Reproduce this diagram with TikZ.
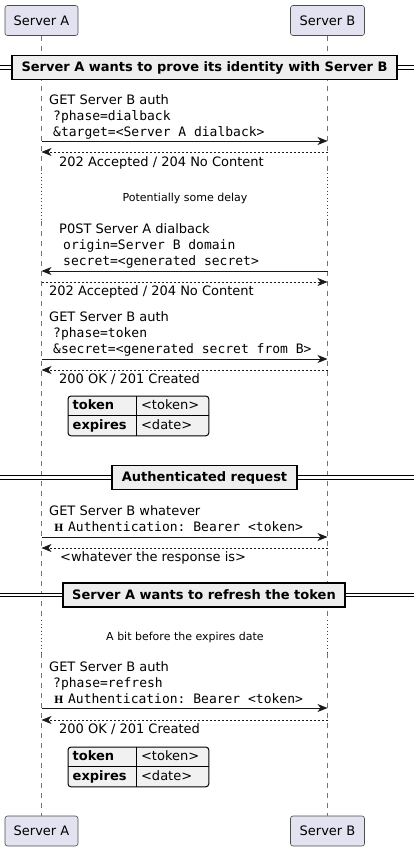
\documentclass[tikz,border=0pt]{standalone}
\usepackage{fontspec}
\setmainfont{DejaVu Sans}
\setsansfont{DejaVu Sans}
\setmonofont{DejaVu Sans Mono}
\newfontfamily\hdrfont{DejaVu Serif}
\usetikzlibrary{
  arrows.meta,
  positioning,
  fit,
  backgrounds
}
\definecolor{PartFill}{HTML}{E2E2F0}
\definecolor{SectFill}{HTML}{EEEEEE}
\definecolor{TblFill}{HTML}{F1F1F1}
\tikzset{
  % Participant box
  partbox/.style={
    rectangle, rounded corners=2.5pt,
    draw=black!70, fill=PartFill, line width=0.6pt,
    minimum height=30pt, inner xsep=0pt,
    font=\fontsize{13}{15}\selectfont
  },
  % Lifeline, normal and during a delay
  life/.style={draw=black!55, line width=0.6pt, dash pattern=on 5pt off 5pt},
  waitline/.style={draw=black!75, line width=0.8pt, dash pattern=on 1pt off 2.5pt},
  % Request and response arrows
  msg/.style={
    -{Stealth[length=10pt,width=8pt,inset=3pt]},
    line width=0.9pt, color=black!90
  },
  ret/.style={msg, line width=0.7pt, dash pattern=on 2pt off 2pt},
  % Message label
  lbl/.style={anchor=base west, inner sep=0pt, align=left, font=\fontsize{13}{16}\selectfont},
  % Section divider
  divline/.style={double=white, double distance=2.6pt, line width=1pt},
  sect/.style={
    rectangle, draw=black, line width=1.5pt, fill=SectFill,
    minimum height=24pt, inner xsep=2pt,
    font=\bfseries\fontsize{13}{15}\selectfont
  },
  delaytxt/.style={font=\fontsize{11}{13}\selectfont},
  % Token table cells
  cellk/.style={
    inner xsep=4.5pt, inner ysep=0pt, text width=59pt,
    minimum height=19.5pt, text height=9.5pt, text depth=2.6pt,
    align=left, font=\bfseries\fontsize{13}{15}\selectfont
  },
  cellv/.style={cellk, text width=63pt, font=\fontsize{13}{15}\selectfont},
  tbl/.style={draw=black, line width=1pt, rounded corners=3pt, fill=TblFill, inner sep=0pt}
}

\begin{document}
\begin{tikzpicture}[x=1pt, y=-1pt]

  \useasboundingbox (0,0) rectangle (414,851);
  \coordinate (lft) at (0,0);
  \coordinate (rgt) at (414,0);

  % Participants
  \node[partbox, minimum width=73pt] (topA) at (41.5,20.5) {Server A};
  \node[partbox, minimum width=74pt] (topB) at (327.5,20.5) {Server B};
  \node[partbox, minimum width=73pt] (botA) at (41.5,831) {Server A};
  \node[partbox, minimum width=74pt] (botB) at (327.5,831) {Server B};

  % Lifelines
  \coordinate (d1) at (0,173);
  \coordinate (d1e) at (0,221);
  \coordinate (d2) at (0,620);
  \coordinate (d2e) at (0,653);
  \foreach \p in {A,B}{
    \draw[life] (top\p.south) -- (top\p |- d1);
    \draw[waitline] (top\p |- d1) -- (top\p |- d1e);
    \draw[life] (top\p |- d1e) -- (top\p |- d2);
    \draw[waitline] (top\p |- d2) -- (top\p |- d2e);
    \draw[life] (top\p |- d2e) -- (bot\p.north);
  }

  % Section: proving identity
  \node[sect, minimum width=385pt] (s1) at (204.5,67.5) {Server A wants to prove its identity with Server B};
  \draw[divline] (s1.west -| lft) -- (s1.west);
  \draw[divline] (s1.east) -- (s1.east -| rgt);

  \node[lbl] (l1) at (49,136.5) {GET Server B auth\\
    \hspace*{4pt}\texttt{?phase=dialback}\\
    \hspace*{4pt}\texttt{\&target=<Server A dialback>}};
  \coordinate (r1) at (0,141);
  \draw[msg] (topA |- r1) -- (topB |- r1);
  \coordinate (r2) at (0,152);
  \draw[ret] (topB |- r2) -- (topA |- r2);
  \node[lbl] (l2) at (59,166.5) {202 Accepted / 204 No Content};

  \node[delaytxt] (w1) at (185,198) {Potentially some delay};

  \node[lbl] (l3) at (59,265.5) {P0ST Server A dialback\\
    \hspace*{4pt}\texttt{origin=Server B domain}\\
    \hspace*{4pt}\texttt{secret=<generated secret>}};
  \coordinate (r3) at (0,271);
  \draw[msg] (topB |- r3) -- (topA |- r3);
  \coordinate (r4) at (0,282);
  \draw[ret] (topA |- r4) -- (topB |- r4);
  \node[lbl] (l4) at (49,295.5) {202 Accepted / 204 No Content};

  \node[lbl] (l5) at (49,353.5) {GET Server B auth\\
    \hspace*{4pt}\texttt{?phase=token}\\
    \hspace*{4pt}\texttt{\&secret=<generated secret from B>}};
  \coordinate (r5) at (0,359);
  \draw[msg] (topA |- r5) -- (topB |- r5);
  \coordinate (r6) at (0,370);
  \draw[ret] (topB |- r6) -- (topA |- r6);
  \node[lbl] (l6) at (59,383.5) {200 OK / 201 Created};

  % Token table
  \node[cellk, anchor=north west] (tk1) at (68,396) {token};
  \node[cellv, right=0pt of tk1] (tv1) {<token>};
  \node[cellk, below=0pt of tk1] (te1) {expires};
  \node[cellv, right=0pt of te1] (td1) {<date>};
  \begin{scope}[on background layer]
    \node[tbl, fit=(tk1)(td1)] (tab1) {};
  \end{scope}
  \draw[line width=1pt] (tk1.north east) -- (te1.south east);
  \draw[line width=1pt] (tk1.south west) -- (tv1.south east);

  % Section: authenticated request
  \node[sect, minimum width=185pt] (s2) at (204.5,477.5) {Authenticated request};
  \draw[divline] (s2.west -| lft) -- (s2.west);
  \draw[divline] (s2.east) -- (s2.east -| rgt);

  \node[lbl] (l7) at (49,531.5) {GET Server B whatever\\
    \hspace*{5pt}{\hdrfont\bfseries\fontsize{10}{10}\selectfont H}\hspace{4.5pt}\texttt{Authentication: Bearer <token>}};
  \coordinate (r7) at (0,537);
  \draw[msg] (topA |- r7) -- (topB |- r7);
  \coordinate (r8) at (0,548);
  \draw[ret] (topB |- r8) -- (topA |- r8);
  \node[lbl] (l8) at (60,561.5) {<whatever the response is>};

  % Section: refreshing the token
  \node[sect, minimum width=282pt] (s3) at (204,595) {Server A wants to refresh the token};
  \draw[divline] (s3.west -| lft) -- (s3.west);
  \draw[divline] (s3.east) -- (s3.east -| rgt);

  \node[delaytxt] (w2) at (185,637) {A bit before the expires date};

  \node[lbl] (l9) at (49,703.5) {GET Server B auth\\
    \hspace*{4pt}\texttt{?phase=refresh}\\
    \hspace*{5pt}{\hdrfont\bfseries\fontsize{10}{10}\selectfont H}\hspace{4.5pt}\texttt{Authentication: Bearer <token>}};
  \coordinate (r9) at (0,708);
  \draw[msg] (topA |- r9) -- (topB |- r9);
  \coordinate (r10) at (0,720);
  \draw[ret] (topB |- r10) -- (topA |- r10);
  \node[lbl] (l10) at (59,733.5) {200 OK / 201 Created};

  % Token table, refreshed
  \node[cellk, anchor=north west] (tk2) at (68,747) {token};
  \node[cellv, right=0pt of tk2] (tv2) {<token>};
  \node[cellk, below=0pt of tk2] (te2) {expires};
  \node[cellv, right=0pt of te2] (td2) {<date>};
  \begin{scope}[on background layer]
    \node[tbl, fit=(tk2)(td2)] (tab2) {};
  \end{scope}
  \draw[line width=1pt] (tk2.north east) -- (te2.south east);
  \draw[line width=1pt] (tk2.south west) -- (tv2.south east);

\end{tikzpicture}
\end{document}
